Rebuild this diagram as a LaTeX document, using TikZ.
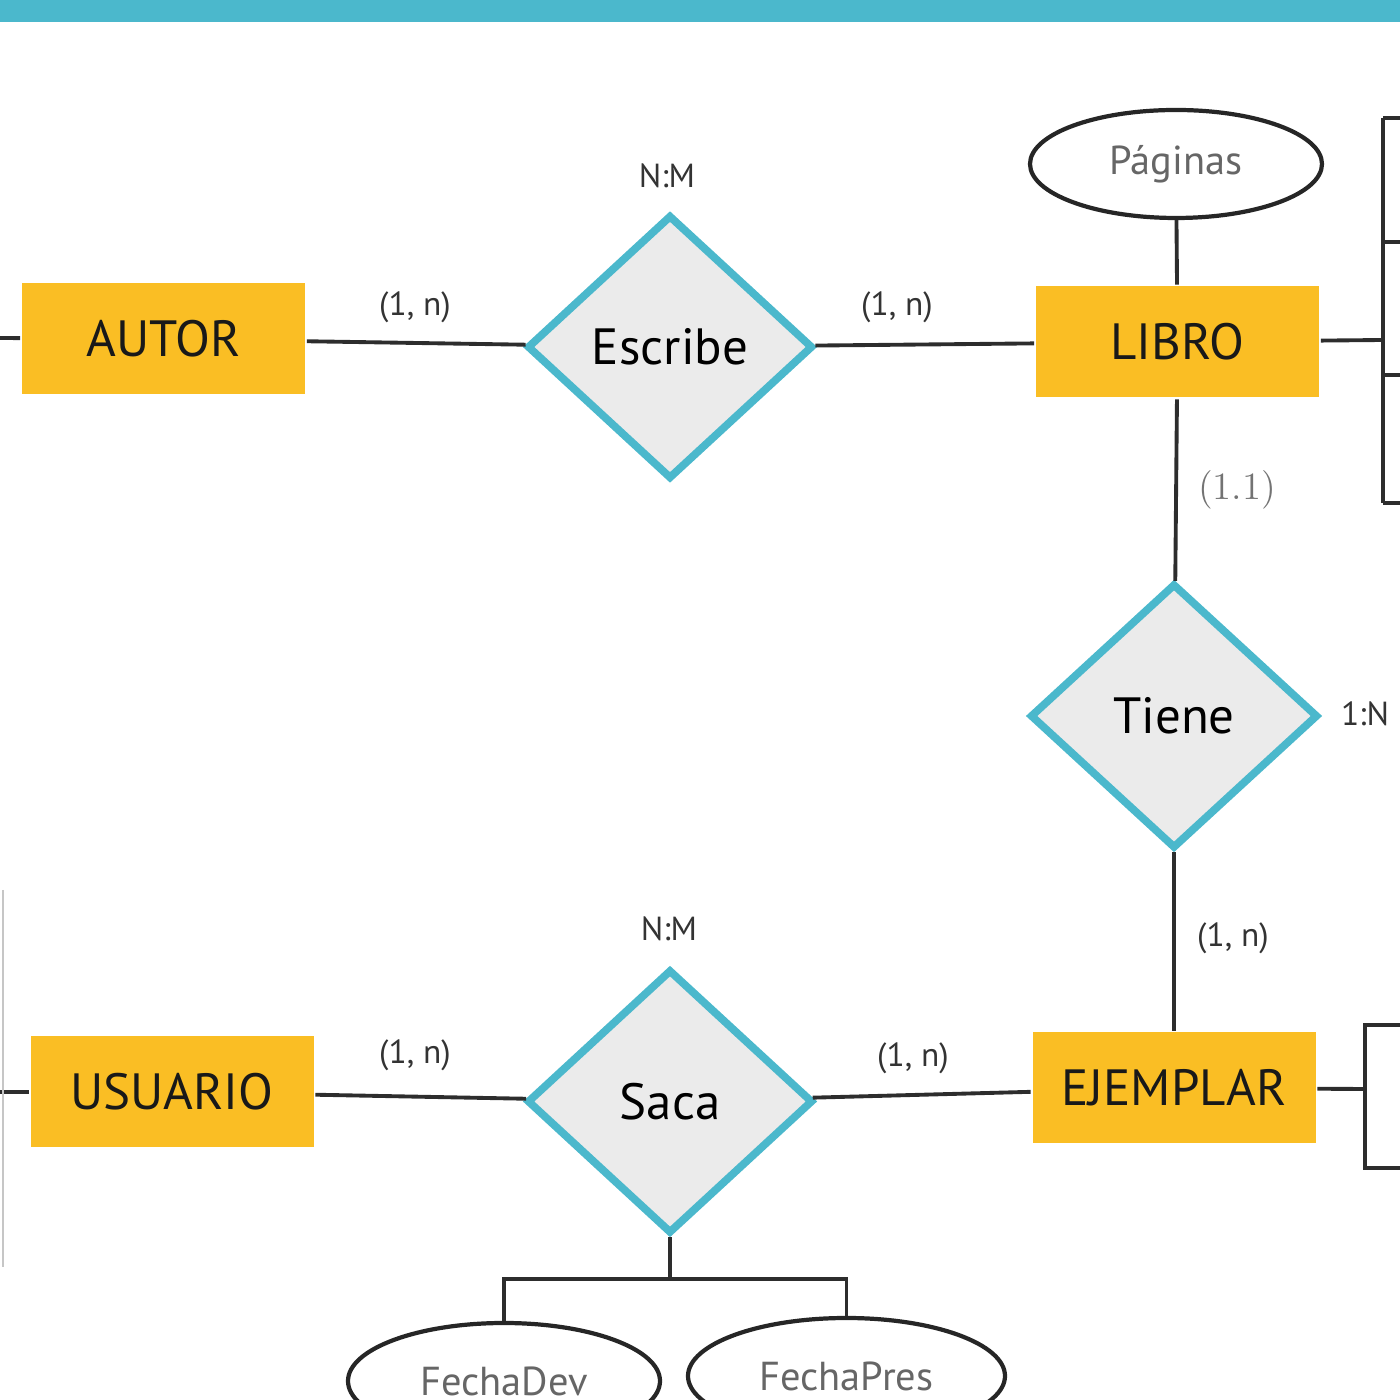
\documentclass[tikz,border=0pt]{standalone}
\usepackage{xcolor}
\usepackage{fontspec}
\setsansfont{PT Sans}
\usetikzlibrary{shapes.geometric}

\definecolor{barra}{RGB}{75,184,204}
\definecolor{amarillo}{RGB}{250,190,36}
\definecolor{grisrel}{RGB}{235,235,235}
\definecolor{linea}{RGB}{45,45,45}

\begin{document}
\begin{tikzpicture}[line width=1.1pt,
    entidad/.style={rectangle,fill=amarillo,minimum width=2.83cm,minimum height=1.11cm,
      text=black!90,font=\sffamily\fontsize{14.5}{16}\selectfont},
    relacion/.style={diamond,draw=barra,line width=2.2pt,fill=grisrel,minimum width=2.86cm,
      minimum height=2.64cm,inner sep=0pt,font=\sffamily\fontsize{14.5}{16}\selectfont},
    atributo/.style={ellipse,draw=black!85,line width=1.2pt,minimum width=2.92cm,
      minimum height=1.08cm,text=black!60,font=\sffamily\fontsize{11.5}{13}\selectfont},
    card/.style={text=black!80,font=\sffamily\fontsize{9.5}{11}\selectfont}]

          \clip (0,0) rectangle (14,14);
          \fill[barra] (0,13.78) rectangle (14,14);

          \node[entidad] (AUTOR) at (1.635,10.61) {AUTOR};
          \node[relacion] (Escribe) at (6.70,10.53) {Escribe};
          \node[entidad] (LIBRO) at (11.775,10.58) {LIBRO};
          \node[atributo] (Paginas) at (11.76,12.36) {Páginas};
          \node[relacion,minimum width=2.88cm,minimum height=2.65cm] (Tiene) at (11.74,6.84) {Tiene};
          \node[entidad] (EJEMPLAR) at (11.74,3.12) {EJEMPLAR};
          \node[relacion] (Saca) at (6.70,2.985) {Saca};
          \node[entidad] (USUARIO) at (1.72,3.08) {USUARIO};
          \node[atributo,minimum width=3.12cm,minimum height=1.16cm] (FechaDev) at (5.04,0.19) {FechaDev};
          \node[atributo,minimum width=3.17cm,minimum height=1.16cm] (FechaPres) at (8.465,0.24) {FechaPres};

          \node[card] (tipoEscribe) at (6.67,12.24) {N:M};
          \node[card] (cardAutor) at (4.15,10.93) {(1, n)};
          \node[card] (cardLibro) at (8.97,10.93) {(1, n)};
          \node[text=black!55,font=\rmfamily\fontsize{11}{13}\selectfont] (cardTieneL) at (12.37,9.10) {(1.1)};
          \node[card] (tipoTiene) at (13.65,6.86) {1:N};
          \node[card] (cardTieneE) at (12.33,4.62) {(1, n)};
          \node[card] (tipoSaca) at (6.69,4.71) {N:M};
          \node[card] (cardUsuario) at (4.15,3.45) {(1, n)};
          \node[card] (cardEjemplar) at (9.13,3.42) {(1, n)};

          \draw[linea] (AUTOR) -- (Escribe);
          \draw[linea] (Escribe) -- (LIBRO);
          \draw[linea] (Paginas) -- (LIBRO);
          \draw[linea] (LIBRO) -- (Tiene);
          \draw[linea] (Tiene) -- (EJEMPLAR);
          \draw[linea] (Saca) -- (EJEMPLAR);
          \draw[linea] (USUARIO) -- (Saca);

          % trozos cortados por el borde
          \coordinate (bordeA) at (0,10.62);
          \coordinate (bordeU) at (0,3.08);
          \draw[linea] (AUTOR) -- (bordeA);
          \draw[linea] (USUARIO) -- (bordeU);
          \draw[gray!45,line width=0.8pt] (0.03,5.10) -- (0.03,1.33);

          \coordinate (llaveL) at (13.83,10.60);
          \draw[linea] (LIBRO) -- (llaveL);
          \draw[linea] (13.83,12.82) -- (13.83,8.97);
          \foreach \y in {12.82,11.58,10.25,8.97}
            \draw[linea] (13.83,\y) -- (14.2,\y);

          \coordinate (llaveE) at (13.65,3.11);
          \draw[linea] (EJEMPLAR) -- (llaveE);
          \draw[linea] (14.2,3.75) -| (13.65,2.32) -- (14.2,2.32);

          \draw[linea] (Saca.south) -- ++(0,-0.42) coordinate (ramaSaca);
          \draw[linea] (FechaDev.north) |- (ramaSaca) -| (FechaPres.north);

          \end{tikzpicture}
\end{document}
